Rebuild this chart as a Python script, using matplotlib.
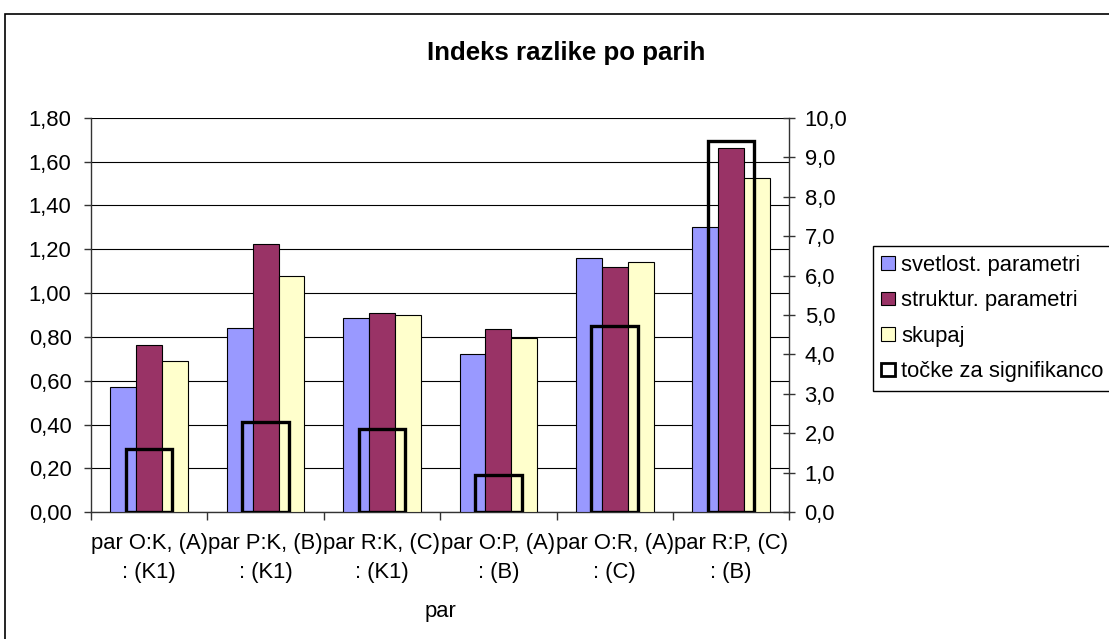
import numpy as np
import matplotlib.pyplot as plt
from matplotlib.patches import Patch, Rectangle
from matplotlib.ticker import MultipleLocator, FuncFormatter

# data
pairs = ["par O:K, (A)\n: (K1)", "par P:K, (B)\n: (K1)", "par R:K, (C)\n: (K1)",
         "par O:P, (A)\n: (B)", "par O:R, (A)\n: (C)", "par R:P, (C)\n: (B)"]
svetlost = [0.57, 0.84, 0.885, 0.72, 1.16, 1.30]
struktur = [0.765, 1.225, 0.91, 0.835, 1.12, 1.66]
skupaj = [0.69, 1.08, 0.90, 0.795, 1.14, 1.525]
tocke = [1.6, 2.28, 2.1, 0.95, 4.73, 9.42]
series_names = ["svetlost. parametri", "struktur. parametri", "skupaj", "točke za signifikanco"]

plt.rcParams['font.family'] = ['Liberation Sans', 'DejaVu Sans']
fs = 15.8

c_blue, c_red, c_yel = '#9999FF', '#993366', '#FFFFCC'

fig = plt.figure(figsize=(11.09, 6.39), dpi=100)

# outer chart border
fig.patches.append(Rectangle((4.5 / 1109, -0.1), 1.2, 1.1 - 14.5 / 639,
                             transform=fig.transFigure, fill=False,
                             edgecolor='black', lw=1.2))

ax = fig.add_axes([91 / 1109, (639 - 512.3) / 639, 698.3 / 1109, 394.6 / 639])
x = np.arange(len(pairs))
w = 1 / 4.5
ax.bar(x - w, svetlost, w, color=c_blue, edgecolor='black', lw=0.8, zorder=3)
ax.bar(x, struktur, w, color=c_red, edgecolor='black', lw=0.8, zorder=3)
ax.bar(x + w, skupaj, w, color=c_yel, edgecolor='black', lw=0.8, zorder=3)

ax.set_xlim(-0.5, len(pairs) - 0.5)
ax.set_ylim(0, 1.8)
ax.yaxis.set_major_locator(MultipleLocator(0.2))
ax.yaxis.set_major_formatter(FuncFormatter(lambda v, p: f"{v:.2f}".replace('.', ',')))
ax.grid(axis='y', color='black', lw=0.8, zorder=0)
ax.set_axisbelow(True)

# category labels centred, tick marks on the category borders
ax.set_xticks(x)
ax.set_xticklabels(pairs, fontsize=fs, linespacing=1.5)
ax.tick_params(axis='x', which='major', length=0, pad=15)
ax.set_xticks(np.arange(-0.5, len(pairs), 1), minor=True)
ax.tick_params(axis='x', which='minor', length=6, direction='out', width=1, color='#333333')
ax.tick_params(axis='y', labelsize=fs, length=5, direction='out', width=1, color='#333333', pad=9)

for s in ['top', 'right']:
    ax.spines[s].set_visible(False)
for s in ['left', 'bottom']:
    ax.spines[s].set_color('#333333')
    ax.spines[s].set_linewidth(1)

ax2 = ax.twinx()
ax2.bar(x, tocke, 0.4, fill=False, edgecolor='black', lw=2.4, zorder=4)
ax2.set_ylim(0, 10)
ax2.yaxis.set_major_locator(MultipleLocator(1))
ax2.yaxis.set_major_formatter(FuncFormatter(lambda v, p: f"{v:.1f}".replace('.', ',')))
ax2.tick_params(axis='y', labelsize=fs, length=8, direction='inout', width=1, color='#333333', pad=7)
for s in ['top', 'left', 'bottom']:
    ax2.spines[s].set_visible(False)
ax2.spines['right'].set_color('#333333')
ax2.spines['right'].set_linewidth(1)

fig.text(566 / 1109, 1 - 53 / 639, "Indeks razlike po parih", ha='center', va='center',
         fontsize=18.6, fontweight='bold')
fig.text(440 / 1109, 1 - 611 / 639, "par", ha='center', va='center', fontsize=fs)

handles = [Patch(facecolor=c_blue, edgecolor='black', lw=0.8),
           Patch(facecolor=c_red, edgecolor='black', lw=0.8),
           Patch(facecolor=c_yel, edgecolor='black', lw=0.8),
           Patch(facecolor='white', edgecolor='black', lw=2)]
leg = fig.legend(handles, series_names, loc='upper left',
                 bbox_to_anchor=(872.7 / 1109, 1 - 246 / 639),
                 fontsize=fs, frameon=True, fancybox=False, framealpha=1,
                 edgecolor='black', handlelength=0.6, handleheight=0.6,
                 handletextpad=0.3, borderpad=0.4, labelspacing=0.66,
                 borderaxespad=0)
leg.get_frame().set_linewidth(1)

fig.savefig("out.png", dpi=100)
